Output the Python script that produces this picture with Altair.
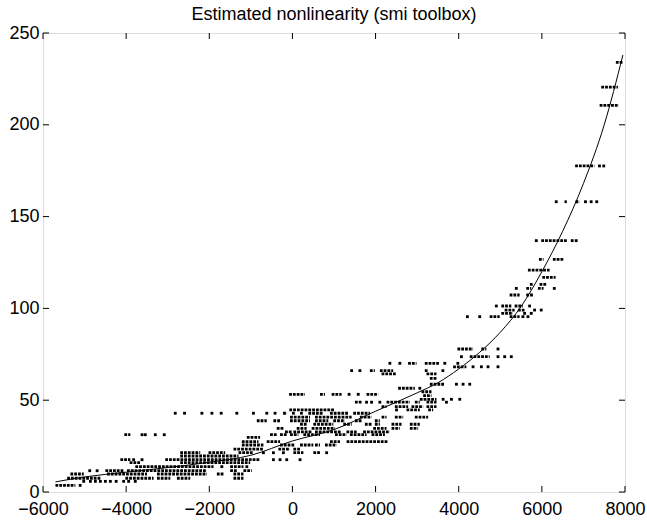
import altair as alt
import pandas as pd

# ---- data ----
x_ticks = [-6000, -4000, -2000, 0, 2000, 4000, 6000, 8000]
y_ticks = [0, 50, 100, 150, 200, 250]
title_text = ["Estimated nonlinearity (smi toolbox)"]

curve_x = [-5700, -5000, -4000, -3000, -2000, -1000, 0, 1000, 2000, 3000, 3500,
           4000, 4500, 5000, 5500, 6000, 6500, 7000, 7500, 7950]
curve_y = [5.5, 8.2, 10.8, 13.3, 16.2, 20.0, 27.8, 34.0, 44.0, 54.0, 59.5,
           67.0, 76.0, 87.0, 101.0, 120.0, 142.0, 168.0, 200.0, 238.0]

# quantised levels with runs of dense dots (x start, x end)
run_levels = [234.0, 220.5, 210.6, 177.6, 158.1, 136.9, 126.7, 120.9, 116.9, 113.1,
              110.9, 107.3, 101.3, 99.1, 97.3, 95.5, 77.9, 73.7, 70.1, 68.2,
              66.1, 64.3, 61.9, 58.7, 56.5, 54.6, 53.2, 52.5, 50.5, 48.9,
              46.5, 44.7, 42.9, 40.8, 38.8, 36.9, 34.7, 32.8, 31.2, 29.8,
              27.4, 25.6, 23.3, 21.4, 19.6, 17.6, 16.0, 13.8, 11.6, 9.8,
              7.5, 3.6]
run_spans = [
    [(7780, 7960)],
    [(7430, 7830)],
    [(7390, 7850)],
    [(6800, 7265)],
    [(6545, 6600), (6809, 6905)],
    [(5986, 6600)],
    [(5930, 6040), (6265, 6520)],
    [(5665, 6186)],
    [(6010, 6330)],
    [(5945, 6106)],
    [(5625, 5745), (5905, 6040), (6265, 6345)],
    [(5225, 5465), (5625, 5785)],
    [(5025, 5265), (5345, 5545)],
    [(5105, 5345), (5425, 5585)],
    [(5025, 5305)],
    [(4745, 4985), (5225, 5465)],
    [(3969, 4345), (4545, 4665)],
    [(4265, 4745)],
    [(2783, 2985), (3184, 3545), (3945, 4025)],
    [(3865, 4185)],
    [(1863, 1983), (2103, 2423), (3184, 3264), (3585, 3665)],
    [(2144, 2504), (3225, 3465)],
    [(3305, 3465)],
    [(3305, 3665)],
    [(2543, 2944)],
    [(3105, 3345)],
    [(-80, 300), (663, 783), (943, 1183), (1783, 2063)],
    [(3145, 3345)],
    [(3064, 3465)],
    [(1503, 1663), (2264, 2824), (2944, 3064), (3225, 3465)],
    [(2144, 2264), (2464, 2783), (2864, 3145), (3225, 3465)],
    [(-74, 1000), (2744, 3064), (3265, 3385)],
    [(-225, -130), (183, 255), (383, 743), (903, 1343), (1463, 1863)],
    [(-58, 423), (543, 1424), (1623, 1903), (2144, 2264), (2464, 2664), (2944, 3264)],
    [(-857, -618), (-458, -298), (-58, 423), (543, 863), (983, 1263), (1503, 1663), (1983, 2103)],
    [(183, 343), (503, 983), (1223, 1424), (1743, 1903), (1983, 2103), (2384, 2624), (2824, 3064)],
    [(-377, -218), (103, 343), (463, 1023), (1943, 2264), (2384, 2584), (2824, 3024)],
    [(-178, -17), (23, 463), (543, 1183), (1300, 1544), (1700, 2344)],
    [(-4043, -3899), (-538, -377), (-298, -137), (-58, 143), (263, 663), (1023, 1303), (1383, 1783), (1903, 2224)],
    [(-1097, -778)],
    [(-1217, -818), (-618, -298), (903, 1143), (1303, 2304)],
    [(-1217, -698), (-298, 63), (183, 503), (543, 663), (783, 1063)],
    [(-1418, -698), (-337, -58), (23, 183)],
    [(-2699, -2218), (-2019, -1618), (-1298, -938), (23, 263), (503, 663)],
    [(-2699, -1298)],
    [(-4139, -3899), (-3059, -778)],
    [(-3916, -3659), (-2699, -1017)],
    [(-3779, -1898), (-1498, -1178)],
    [(-4499, -4067), (-3979, -2058), (-1498, -1338), (-1178, -978)],
    [(-5340, -5020), (-4459, -3498), (-3258, -2058), (-1818, -1658), (-1418, -1178)],
    [(-5419, -4619), (-4019, -3340), (-3258, -2939), (-2778, -2459), (-1418, -1178)],
    [(-5700, -5220), (-5140, -5059)],
]

# isolated dots: level -> x positions
dot_levels = [177.6, 158.1, 136.9, 113.1, 110.9, 101.3, 99.1, 97.3, 95.5, 77.9,
              73.7, 70.1, 68.2, 66.1, 58.7, 56.5, 53.2, 50.5, 48.9, 44.7,
              42.9, 31.2, 21.4, 17.6, 13.8, 11.6, 5.8]
dot_xs = [
    [7386, 7489],
    [6346, 7049, 7186, 7320],
    [5866, 6730, 6826],
    [5745],
    [5385],
    [4905, 5705],
    [5825, 5985],
    [5585, 5745],
    [4209, 4505, 5545, 5665],
    [4945],
    [4065, 4945, 5105, 5265],
    [2344, 2584, 3665],
    [4345, 4545, 4705, 4945],
    [1424, 1623],
    [3945, 4105, 4265],
    [3064],
    [1363, 1583],
    [3625, 3825, 4025],
    [1783, 1903, 2103, 3705],
    [2504],
    [-2819, -2596, -2178, -1937, -1714, -1337, -938, -617, -418, 23],
    [-3618, -3539, -3299, -3083],
    [-698, -458, -218, 823],
    [-3820, -3618, -458, -298, -137, 183],
    [-1698, -1097],
    [-4876, -4698],
    [-5020, -4860, -4740, -4620, -4500, -4380, -4240, -4060, -3940, -3780],
]

# ---- tables ----
runs = pd.DataFrame([{"y": lv, "x0": a, "x1": b}
                     for lv, spans in zip(run_levels, run_spans) for a, b in spans])
dots = pd.DataFrame([{"y": lv, "x": x} for lv, xs in zip(dot_levels, dot_xs) for x in xs])
curve = pd.DataFrame({"x": curve_x, "y": curve_y})
xt = pd.DataFrame({"v": x_ticks})
yt = pd.DataFrame({"v": y_ticks})
tt = pd.DataFrame({"t": title_text})

W, H = 582, 459
TL = 6
FONT = "Liberation Sans"

xs = alt.Scale(domain=[-6000, 8000], nice=False, zero=False)
ys = alt.Scale(domain=[0, 250], nice=False, zero=False)

x_axis = alt.Axis(values=x_ticks, format="d", ticks=False, domain=False, grid=False, title=None,
                  labelFont=FONT, labelFontSize=18, labelColor="black", labelPadding=8,
                  labelFlush=False, labelOverlap=False)
y_axis = alt.Axis(values=y_ticks, format="d", ticks=False, domain=False, grid=False, title=None,
                  labelFont=FONT, labelFontSize=18, labelColor="black", labelPadding=4,
                  labelFlush=False, labelOverlap=False)

X = lambda f: alt.X(f, scale=xs, axis=x_axis)
Y = lambda f: alt.Y(f, scale=ys, axis=y_axis)

run_layer = alt.Chart(runs).mark_rule(
    color="black", strokeWidth=2.8, strokeDash=[2.8, 1.0], strokeCap="butt"
).encode(x=X("x0:Q"), x2="x1:Q", y=Y("y:Q"))

dot_layer = alt.Chart(dots).mark_square(color="black", size=8, opacity=1).encode(
    x=X("x:Q"), y=Y("y:Q"))

curve_layer = alt.Chart(curve).mark_line(
    color="black", strokeWidth=1, interpolate="monotone"
).encode(x=X("x:Q"), y=Y("y:Q"))

tick_b = alt.Chart(xt).mark_rule(color="black", strokeWidth=1).encode(
    x=X("v:Q"), y=alt.value(H), y2=alt.value(H - TL))
tick_t = alt.Chart(xt).mark_rule(color="black", strokeWidth=1).encode(
    x=X("v:Q"), y=alt.value(0), y2=alt.value(TL))
tick_l = alt.Chart(yt).mark_rule(color="black", strokeWidth=1).encode(
    y=Y("v:Q"), x=alt.value(0), x2=alt.value(TL))
tick_r = alt.Chart(yt).mark_rule(color="black", strokeWidth=1).encode(
    y=Y("v:Q"), x=alt.value(W), x2=alt.value(W - TL))

title_layer = alt.Chart(tt).mark_text(
    font=FONT, fontSize=18, color="black", align="center", baseline="alphabetic"
).encode(text="t:N", x=alt.value(W / 2), y=alt.value(-13.5))

chart = alt.layer(
    run_layer, dot_layer, curve_layer, tick_b, tick_t, tick_l, tick_r, title_layer
).properties(
    width=W, height=H,
    autosize=alt.AutoSizeParams(type="none"),
    padding={"left": 43, "top": 33, "right": 22, "bottom": 30},
).configure_view(
    stroke="black", strokeWidth=1
).configure(background="white")

chart.save("out.html", embed_options={"renderer": "svg", "actions": False})
